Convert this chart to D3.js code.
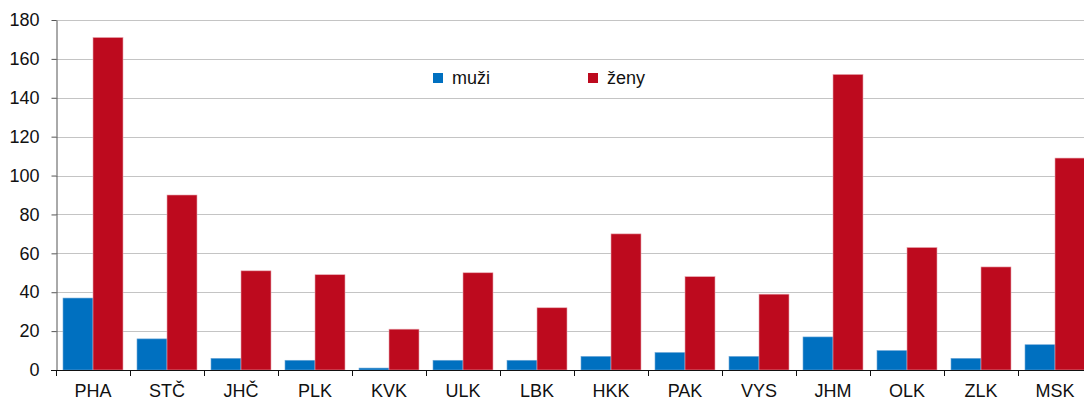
<!DOCTYPE html>
<html>
<head>
<meta charset="utf-8">
<script src="https://cdn.jsdelivr.net/npm/d3@7"></script>
<style>
  body { margin: 0; background: #fff; overflow: hidden; }
  svg { display: block; font-family: "Liberation Sans", Arial, sans-serif; }
</style>
</head>
<body>
<div id="chart"></div>
<script>
"use strict";

const regions = ['PHA', 'STČ', 'JHČ', 'PLK', 'KVK', 'ULK', 'LBK', 'HKK', 'PAK', 'VYS', 'JHM', 'OLK', 'ZLK', 'MSK'];
const muzi = [37, 16, 6, 5, 1, 5, 5, 7, 9, 7, 17, 10, 6, 13];
const zeny = [171, 90, 51, 49, 21, 50, 32, 70, 48, 39, 152, 63, 53, 109];
const seriesNames = ['muži', 'ženy'];
const yTicks = [0, 20, 40, 60, 80, 100, 120, 140, 160, 180];

const colours = ['#0070c0', '#bd0a1e'];

const width = 1084;
const height = 400;
// plot runs a bit past the right edge, like the original
const margin = { top: 20, right: -8, bottom: 30, left: 56 };

const svg = d3.select('#chart')
  .append('svg')
  .attr('width', width)
  .attr('height', height);

const x = d3.scaleBand()
  .domain(regions)
  .range([margin.left, width - margin.right])
  .paddingInner(0)
  .paddingOuter(0);

const x1 = d3.scaleBand()
  .domain(seriesNames)
  .range([7, x.bandwidth() - 7]);

const y = d3.scaleLinear()
  .domain([0, 180])
  .range([height - margin.bottom, margin.top]);

// gridlines
svg.append('g')
  .selectAll('line')
  .data(yTicks.filter(d => d > 0))
  .enter().append('line')
    .attr('x1', margin.left)
    .attr('x2', width)
    .attr('y1', d => Math.round(y(d)) + 0.5)
    .attr('y2', d => Math.round(y(d)) + 0.5)
    .attr('stroke', '#c4c4c4')
    .attr('stroke-width', 1);

// bars
const data = regions.map((r, i) => ({ region: r, values: [muzi[i], zeny[i]] }));

const groups = svg.append('g')
  .selectAll('g')
  .data(data)
  .enter().append('g')
    .attr('transform', d => `translate(${x(d.region)},0)`);

groups.selectAll('rect')
  .data(d => d.values.map((v, i) => ({ name: seriesNames[i], value: v, i })))
  .enter().append('rect')
    .attr('x', d => x1(d.name))
    .attr('y', d => y(d.value))
    .attr('width', x1.bandwidth())
    .attr('height', d => y(0) - y(d.value))
    .attr('fill', d => colours[d.i])
    .attr('stroke', d => d.i === 1 ? '#e8a6ae' : '#6fa8d8')
    .attr('stroke-width', 0.6);

// y axis
const yAxis = svg.append('g')
  .attr('transform', `translate(${margin.left + 0.5},0)`)
  .call(d3.axisLeft(y).tickValues(yTicks).tickSize(5).tickPadding(12).tickSizeOuter(0));

yAxis.select('.domain').attr('stroke', '#555');
yAxis.selectAll('.tick line').attr('stroke', '#555');
yAxis.selectAll('.tick text')
  .attr('font-size', '18px')
  .attr('fill', '#111');

// x axis
const xAxis = svg.append('g')
  .attr('transform', `translate(0,${y(0) + 0.5})`)
  .call(d3.axisBottom(x).tickSize(0).tickPadding(14));

xAxis.select('.domain').attr('stroke', '#111').attr('d', `M${margin.left - 5},0H${width}`);
xAxis.selectAll('.tick text')
  .attr('font-size', '18px')
  .attr('fill', '#111');

// ticks between categories
svg.append('g')
  .selectAll('line')
  .data(regions)
  .enter().append('line')
    .attr('x1', d => Math.round(x(d)) + 0.5)
    .attr('x2', d => Math.round(x(d)) + 0.5)
    .attr('y1', y(0))
    .attr('y2', y(0) + 6)
    .attr('stroke', '#111');

// legend
const legendX = [433, 588];
const legend = svg.append('g')
  .selectAll('g')
  .data(seriesNames)
  .enter().append('g')
    .attr('transform', (d, i) => `translate(${legendX[i]},73)`);

legend.append('rect')
  .attr('width', 10)
  .attr('height', 10)
  .attr('fill', (d, i) => colours[i]);

legend.append('text')
  .attr('x', 19)
  .attr('y', 11)
  .attr('font-size', '18px')
  .attr('fill', '#111')
  .text(d => d);
</script>
</body>
</html>
